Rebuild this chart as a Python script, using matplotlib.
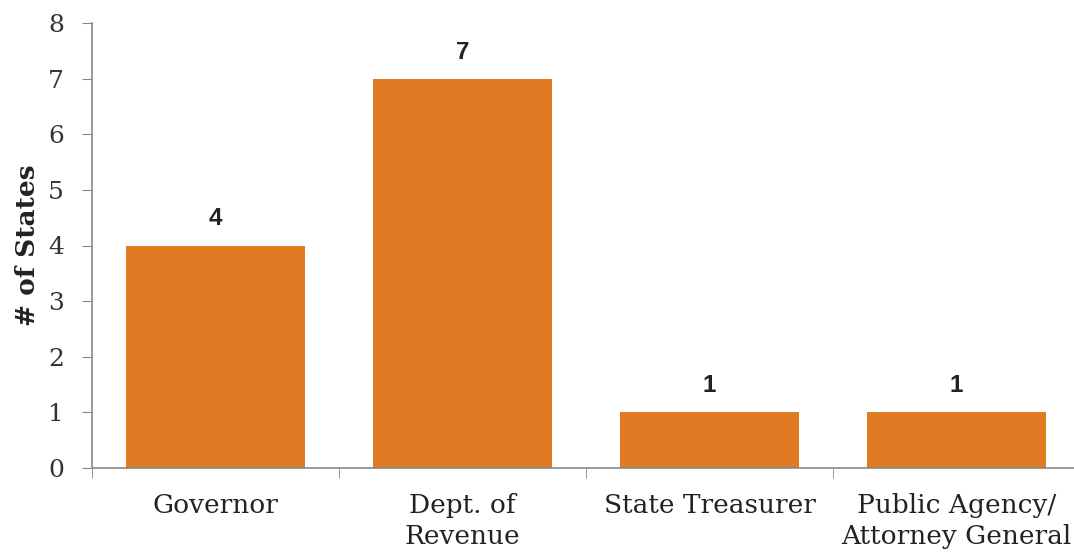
import numpy as np
import matplotlib.pyplot as plt

categories = ['Governor', 'Dept. of\nRevenue', 'State Treasurer', 'Public Agency/\nAttorney General']
counts = [4, 7, 1, 1]
yticks = [0, 1, 2, 3, 4, 5, 6, 7, 8]

fig = plt.figure(figsize=(10.74, 5.56), dpi=100)
ax = fig.add_axes([92/1074, 1 - 468/556, 988/1074, 445/556])

x = np.arange(len(categories))
bars = ax.bar(x, counts, width=0.725, color='#E07B24')

for xi, v in zip(x, counts):
    ax.text(xi, v + 0.27, str(v), ha='center', va='bottom', fontsize=17.5,
            fontweight='bold', family='Liberation Sans', color='#222222')

ax.set_xlim(-0.5, 3.5)
ax.set_ylim(0, 8)
ax.set_yticks(yticks)
ax.set_yticklabels([str(t) for t in yticks], family='DejaVu Serif', fontsize=18, color='#333333')

# category labels centered, ticks between categories
ax.set_xticks(x)
ax.set_xticklabels(categories, family='DejaVu Serif', fontsize=19, color='#222222', linespacing=1.3)
ax.tick_params(axis='x', length=0, pad=18)
ax.set_xticks(np.arange(-0.5, 4.0, 1.0), minor=True)
ax.tick_params(axis='x', which='minor', length=7, color='#888888', direction='out')
ax.tick_params(axis='y', length=7, color='#888888', direction='out', pad=13)

for s in ['top', 'right']:
    ax.spines[s].set_visible(False)
for s in ['left', 'bottom']:
    ax.spines[s].set_color('#888888')
    ax.spines[s].set_linewidth(1.2)

ax.set_ylabel('# of States', family='DejaVu Serif', fontsize=19, fontweight='bold',
              color='#222222', labelpad=6)

fig.savefig('out.png', dpi=100)
